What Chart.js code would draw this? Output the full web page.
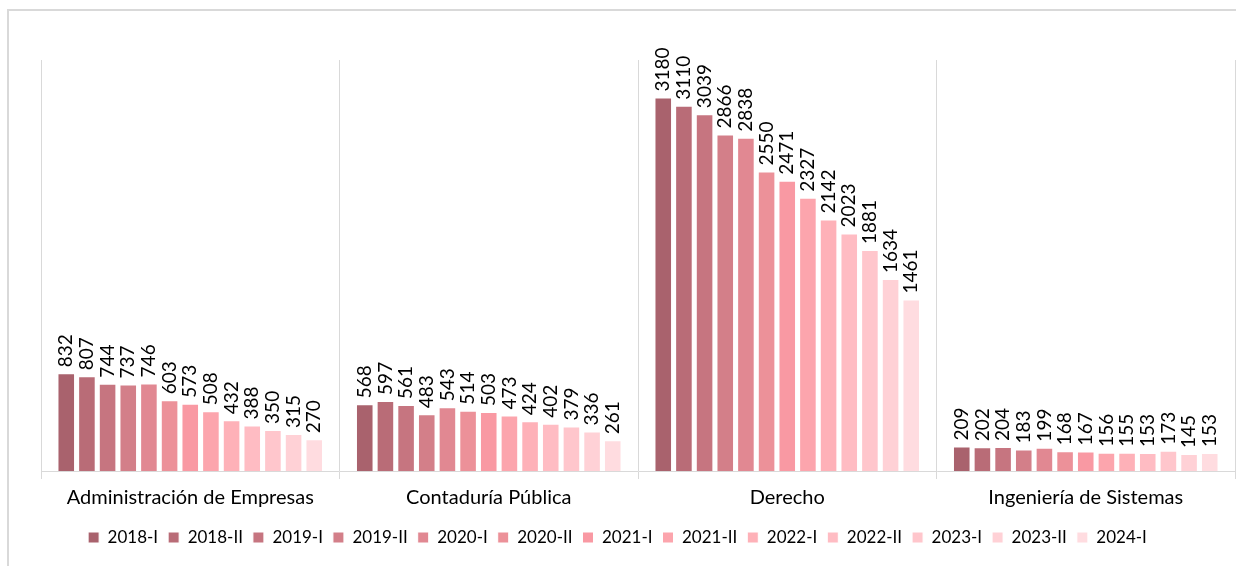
<!DOCTYPE html>
<html>
<head>
<meta charset="utf-8">
<script src="https://cdn.jsdelivr.net/npm/chart.js@4/dist/chart.umd.min.js"></script>
<style>
  html, body { margin: 0; padding: 0; background: #fff; }
  #wrap { position: relative; width: 1236px; height: 566px; overflow: hidden; }
  #frame { position: absolute; left: 7px; top: 9px; width: 1300px; height: 700px; border: 2px solid #d9d9d9; box-sizing: border-box; }
  #myChart { position: absolute; left: 0; top: 0; }
</style>
</head>
<body>
<div id="wrap">
  <div id="frame"></div>
  <canvas id="myChart" width="1236" height="566"></canvas>
</div>
<script>
// Data Block
const programs = ["Administración de Empresas", "Contaduría Pública", "Derecho", "Ingeniería de Sistemas"];
const periods = ["2018-I", "2018-II", "2019-I", "2019-II", "2020-I", "2020-II", "2021-I", "2021-II", "2022-I", "2022-II", "2023-I", "2023-II", "2024-I"];

// one array per program, ordered like periods
const administracion = [832, 807, 744, 737, 746, 603, 573, 508, 432, 388, 350, 315, 270];
const contaduria = [568, 597, 561, 483, 543, 514, 503, 473, 424, 402, 379, 336, 261];
const derecho = [3180, 3110, 3039, 2866, 2838, 2550, 2471, 2327, 2142, 2023, 1881, 1634, 1461];
const sistemas = [209, 202, 204, 183, 199, 168, 167, 156, 155, 153, 173, 145, 153];

const periodColors = [
  "#a9626d", "#b96c77", "#c67580", "#d37f89", "#e18892", "#ec9199",
  "#f999a3", "#fca5ad", "#feb1b8", "#ffbcc3", "#ffc6cc", "#ffd1d6", "#ffdce0",
];

// Setup Block
const byProgram = [administracion, contaduria, derecho, sistemas];
const data = {
  labels: programs,
  datasets: periods.map((p, i) => ({
    label: p,
    data: byProgram.map((arr) => arr[i]),
    backgroundColor: periodColors[i],
    borderColor: "#ffffff",
    borderWidth: 1,
    barPercentage: 0.85,
    categoryPercentage: 0.9,
  })),
};

// vertical value labels above each bar
const barValueLabels = {
  id: "barValueLabels",
  afterDatasetsDraw(chart) {
    const ctx = chart.ctx;
    ctx.save();
    ctx.font = "19px Lato";
    ctx.fillStyle = "#000";
    ctx.textAlign = "left";
    ctx.textBaseline = "middle";
    chart.data.datasets.forEach((ds, i) => {
      chart.getDatasetMeta(i).data.forEach((bar, j) => {
        ctx.save();
        ctx.translate(bar.x, bar.y - 6);
        ctx.rotate(-Math.PI / 2);
        ctx.fillText(ds.data[j], 0, 0);
        ctx.restore();
      });
    });
    ctx.restore();
  },
};

// Options Block
const options = {
  responsive: false,
  animation: false,
  layout: { padding: { left: 0, right: 1, top: 60, bottom: 10 } },
  scales: {
    x: {
      grid: { color: "#d9d9d9", lineWidth: 1, tickLength: 8, offset: true },
      border: { color: "#d9d9d9", width: 1 },
      ticks: { color: "#000", font: { family: "Lato", size: 20 }, padding: 7 },
      afterFit(scale) {
        scale.height += 2;
      },
    },
    y: {
      min: 0,
      max: 3500,
      ticks: { display: false },
      grid: { display: false },
      border: { display: false },
      // hidden axis only reserves the left margin, so the legend centres on the canvas
      afterFit(scale) {
        scale.width = 41;
      },
    },
  },
  plugins: {
    legend: {
      position: "bottom",
      labels: {
        color: "#000",
        font: { family: "Lato", size: 17 },
        boxWidth: 11,
        boxHeight: 11,
        padding: 10,
      },
    },
    tooltip: { enabled: false },
  },
};

// Config Block
const config = {
  type: "bar",
  data,
  options,
  plugins: [barValueLabels],
};

// Render Block
const myChart = new Chart(document.getElementById("myChart"), config);
</script>
</body>
</html>
